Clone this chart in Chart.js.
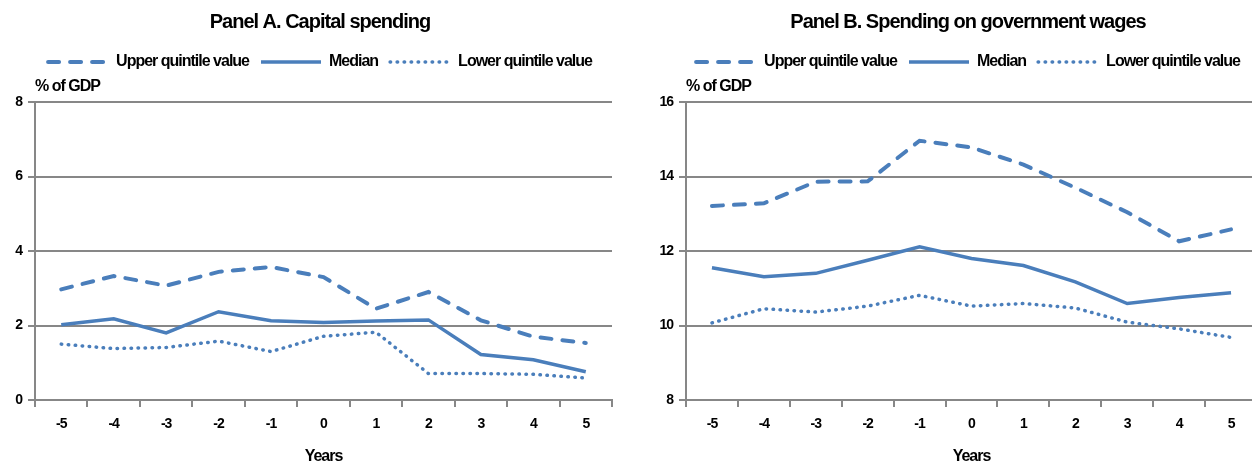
<!DOCTYPE html>
<html>
<head>
<meta charset="utf-8">
<script src="https://cdn.jsdelivr.net/npm/chart.js@4.4.1/dist/chart.umd.min.js"></script>
<style>
  html, body { margin: 0; padding: 0; background: #fff; overflow: hidden; width: 1252px; height: 461px; }
  .panel { position: absolute; top: 0; }
  #panelA { left: 0; width: 626px; height: 461px; }
  #panelB { left: 640px; width: 640px; height: 461px; }
</style>
</head>
<body>
<div class="panel" id="panelA"><canvas id="chartA" width="626" height="461"></canvas></div>
<div class="panel" id="panelB"><canvas id="chartB" width="640" height="461"></canvas></div>
<script>
// Years relative to the event
const years = ['-5', '-4', '-3', '-2', '-1', '0', '1', '2', '3', '4', '5'];

// Panel A: capital spending, % of GDP
const capUpper  = [2.97, 3.33, 3.07, 3.44, 3.57, 3.30, 2.45, 2.90, 2.14, 1.70, 1.53];
const capMedian = [2.02, 2.18, 1.80, 2.37, 2.13, 2.08, 2.12, 2.15, 1.22, 1.08, 0.76];
const capLower  = [1.50, 1.38, 1.41, 1.58, 1.30, 1.71, 1.82, 0.71, 0.71, 0.69, 0.59];
const capRange  = [0, 8];

// Panel B: spending on government wages, % of GDP
const wageUpper  = [13.21, 13.28, 13.86, 13.87, 14.96, 14.78, 14.32, 13.70, 13.04, 12.26, 12.58];
const wageMedian = [11.55, 11.31, 11.40, 11.75, 12.11, 11.80, 11.61, 11.17, 10.59, 10.75, 10.88];
const wageLower  = [10.07, 10.45, 10.36, 10.52, 10.81, 10.52, 10.59, 10.47, 10.09, 9.91, 9.68];
const wageRange  = [8, 16];

const tickStep = 2;
const seriesNames = ['Upper quintile value', 'Median', 'Lower quintile value'];
const unitText = '% of GDP';
const xTitle = 'Years';

const BLUE = '#4a7ebb';
const GRID = '#878787';
const FONT = '"Liberation Sans", Arial, Helvetica, sans-serif';
const TRACKING = '-1px';
const Y_TICK_SIZE = 14;
const Y_TICK_LEN = 7;
const Y_LABEL_GAP = 13;   // from axis line to right edge of the value labels

// Tight text tracking for every label on the canvas
const tightText = {
  id: 'tightText',
  beforeLayout(chart) { chart.ctx.letterSpacing = TRACKING; },
  beforeDraw(chart) { chart.ctx.letterSpacing = TRACKING; }
};

// Width of the widest value label, measured the same way the scale measures it
function widestTickLabel(range) {
  const ctx = document.createElement('canvas').getContext('2d');
  ctx.font = `bold ${Y_TICK_SIZE}px ${FONT}`;
  ctx.letterSpacing = TRACKING;
  let w = 0;
  for (let v = range[0]; v <= range[1]; v += tickStep) {
    w = Math.max(w, ctx.measureText(String(v)).width);
  }
  return w;
}

// Legend entries drawn as short line samples in each series' own stroke style
function lineLegendLabels(chart) {
  return chart.data.datasets.map((ds, i) => ({
    text: ds.label,
    datasetIndex: i,
    hidden: false,
    fontColor: '#000',
    fillStyle: ds.borderColor,
    strokeStyle: ds.borderColor,
    lineWidth: ds.borderWidth,
    lineDash: ds.borderDash || [],
    lineDashOffset: 0,
    lineCap: ds.borderCapStyle,
    pointStyle: 'line',
    rotation: 0
  }));
}

function makeChart(id, title, upper, median, lower, range, pad) {
  const datasets = [
    { label: seriesNames[0], data: upper, borderWidth: 4, borderDash: [11, 11], borderCapStyle: 'round' },
    { label: seriesNames[1], data: median, borderWidth: 3.5, borderCapStyle: 'butt' },
    { label: seriesNames[2], data: lower, borderWidth: 3.5, borderDash: [0.5, 6.5], borderCapStyle: 'round' }
  ].map(d => Object.assign(d, {
    borderColor: BLUE, backgroundColor: BLUE,
    pointRadius: 0, pointHoverRadius: 0, tension: 0, fill: false, xAxisID: 'x'
  }));

  const labelShift = -(Y_LABEL_GAP + widestTickLabel(range));

  return new Chart(document.getElementById(id), {
    type: 'line',
    data: { labels: years, datasets },
    plugins: [tightText],
    options: {
      responsive: false,
      animation: false,
      events: [],
      layout: { padding: { left: pad.left, right: pad.right, top: 0, bottom: 0 } },
      plugins: {
        title: {
          display: true,
          text: title,
          color: '#000',
          font: { family: FONT, size: 20, weight: 'bold', lineHeight: 1.2 },
          padding: { top: 10, bottom: 8 }
        },
        legend: {
          display: true,
          position: 'top',
          labels: {
            usePointStyle: true,
            pointStyle: 'line',
            pointStyleWidth: 60,
            boxHeight: 16,
            padding: 12,
            color: '#000',
            font: { family: FONT, size: 16, weight: 'bold' },
            generateLabels: lineLegendLabels
          }
        },
        tooltip: { enabled: false }
      },
      scales: {
        x: {
          type: 'category',
          position: 'bottom',
          offset: true,
          grid: {
            offset: true,
            drawOnChartArea: false,
            drawTicks: true,
            tickLength: 7,
            color: GRID,
            lineWidth: 2
          },
          border: { display: true, color: GRID, width: 2 },
          ticks: {
            color: '#000',
            padding: 8.6,
            maxRotation: 0,
            autoSkip: false,
            font: { family: FONT, size: 14, weight: 'bold', lineHeight: 1.2 }
          },
          title: {
            display: true,
            text: xTitle,
            color: '#000',
            font: { family: FONT, size: 16, weight: 'bold', lineHeight: 1 },
            padding: { top: 8, bottom: -4 }
          }
        },
        // top axis carries only the unit caption above the plot
        xUnit: {
          type: 'category',
          axis: 'x',
          position: 'top',
          offset: true,
          grid: { display: false, drawTicks: false },
          border: { display: false },
          ticks: { display: false },
          title: {
            display: true,
            text: unitText,
            align: 'start',
            color: '#000',
            font: { family: FONT, size: 16, weight: 'bold', lineHeight: 1 },
            padding: { top: -1, bottom: 7 }
          }
        },
        y: {
          min: range[0],
          max: range[1],
          afterFit(scale) { scale.width = Y_TICK_LEN; },
          grid: {
            drawOnChartArea: true,
            drawTicks: true,
            tickLength: Y_TICK_LEN,
            color: GRID,
            lineWidth: 2
          },
          border: { display: true, color: GRID, width: 2 },
          ticks: {
            stepSize: tickStep,
            mirror: true,
            crossAlign: 'far',
            padding: labelShift,
            color: '#000',
            autoSkip: false,
            font: { family: FONT, size: Y_TICK_SIZE, weight: 'bold' }
          }
        }
      }
    }
  });
}

makeChart('chartA', 'Panel A. Capital spending', capUpper, capMedian, capLower, capRange,
  { left: 28, right: 14 });
makeChart('chartB', 'Panel B. Spending on government wages', wageUpper, wageMedian, wageLower, wageRange,
  { left: 39, right: 23 });
</script>
</body>
</html>
